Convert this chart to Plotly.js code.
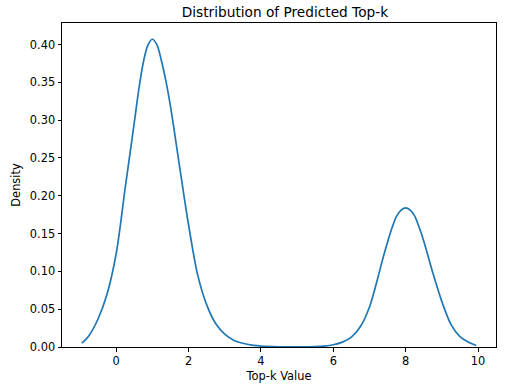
<!DOCTYPE html>
<html>
<head>
<meta charset="utf-8">
<script src="https://cdn.plot.ly/plotly-3.0.1.min.js"></script>
<style>html,body{margin:0;padding:0;background:#fff;}#chart{width:526px;height:388px;}</style>
</head>
<body>
<div id="chart"></div>
<script>
// Values
const topkValues = [-0.95, -0.75, -0.50, -0.25, 0.00, 0.25, 0.50, 0.625, 0.75, 0.875, 1.00, 1.125, 1.25, 1.375, 1.50, 1.625, 1.75, 1.875, 2.00, 2.25, 2.50, 2.75, 3.00, 3.25, 3.50, 3.75, 4.00, 4.50, 5.00, 5.50, 5.75, 6.00, 6.25, 6.50, 6.75, 7.00, 7.25, 7.375, 7.50, 7.625, 7.75, 7.875, 8.00, 8.125, 8.25, 8.375, 8.50, 8.625, 8.75, 9.00, 9.25, 9.50, 9.75, 9.95];
const densityValues = [0.005, 0.015, 0.037, 0.070, 0.123, 0.210, 0.296, 0.340, 0.376, 0.399, 0.407, 0.400, 0.379, 0.352, 0.319, 0.280, 0.240, 0.200, 0.162, 0.096, 0.056, 0.031, 0.017, 0.009, 0.005, 0.0025, 0.0012, 0.0003, 0.0001, 0.0004, 0.0012, 0.003, 0.0065, 0.013, 0.027, 0.053, 0.095, 0.118, 0.139, 0.158, 0.173, 0.181, 0.184, 0.181, 0.173, 0.158, 0.140, 0.119, 0.098, 0.060, 0.030, 0.0137, 0.006, 0.002];
const xTicks = [0, 2, 4, 6, 8, 10];
const yTicks = [0.00, 0.05, 0.10, 0.15, 0.20, 0.25, 0.30, 0.35, 0.40];

const font = {family: 'DejaVu Sans, sans-serif', size: 11.4, color: '#000'};
Plotly.newPlot('chart', [{
  x: topkValues, y: densityValues, type: 'scatter', mode: 'lines',
  line: {color: '#1f77b4', width: 1.7, shape: 'spline', smoothing: 0.9},
  hoverinfo: 'skip'
}], {
  width: 526, height: 388,
  margin: {l: 62, r: 30, t: 23, b: 41, pad: 0},
  paper_bgcolor: '#fff', plot_bgcolor: '#fff',
  font: font,
  showlegend: false,
  title: {text: 'Distribution of Predicted Top-k', font: {family: 'DejaVu Sans, sans-serif', size: 13.7, color: '#000'}, x: 0.5417, xanchor: 'center', y: 0.969, yanchor: 'middle'},
  xaxis: {
    range: [-1.495, 10.495], tickvals: xTicks, ticktext: xTicks.map(String),
    showgrid: false, zeroline: false, showline: true, mirror: true, linecolor: '#000', linewidth: 1,
    ticks: 'outside', ticklen: 3.5, tickwidth: 1, tickcolor: '#000', tickfont: font,
    title: {text: 'Top-k Value', font: font, standoff: 4}
  },
  yaxis: {
    range: [0, 0.4285], tickvals: yTicks, ticktext: yTicks.map(v => v.toFixed(2)),
    showgrid: false, zeroline: false, showline: true, mirror: true, linecolor: '#000', linewidth: 1,
    ticks: 'outside', ticklen: 3.5, tickwidth: 1, tickcolor: '#000', tickfont: font,
    title: {text: 'Density', font: font, standoff: 6}
  }
}, {staticPlot: true, displayModeBar: false});
</script>
</body>
</html>
